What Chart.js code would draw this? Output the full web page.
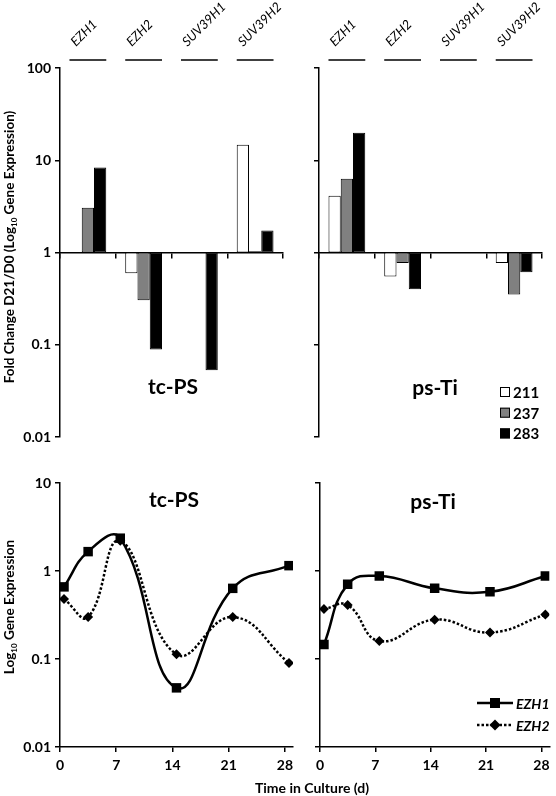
<!DOCTYPE html>
<html>
<head>
<meta charset="utf-8">
<script src="https://cdn.jsdelivr.net/npm/chart.js@4.4.1/dist/chart.umd.min.js"></script>
<style>
  body { margin: 0; background: #fff; width: 556px; height: 796px; position: relative; overflow: hidden; font-family: Lato, sans-serif; }
  canvas { position: absolute; }
  .ytitle { position: absolute; white-space: nowrap; font-weight: bold; font-size: 13.5px; color: #000;
            transform: translate(-50%, -50%) rotate(-90deg); }
  .ytitle sub { font-size: 8px; }
  .xtitle { position: absolute; white-space: nowrap; font-weight: bold; font-size: 14px; color: #000; transform: translate(-50%, -50%); }
</style>
</head>
<body>
<canvas id="barTc" width="300" height="450" style="left:0;top:0"></canvas>
<canvas id="barPs" width="256" height="450" style="left:300px;top:0"></canvas>
<canvas id="lineTc" width="300" height="346" style="left:0;top:450px"></canvas>
<canvas id="linePs" width="256" height="346" style="left:300px;top:450px"></canvas>
<div class="ytitle" style="left:10px;top:247px">Fold Change D21/D0 (Log<sub>10</sub> Gene Expression)</div>
<div class="ytitle" style="left:10px;top:607px">Log<sub>10</sub> Gene Expression</div>
<div class="xtitle" style="left:312px;top:787px">Time in Culture (d)</div>
<script>
// donnees - fold change D21/D0
const genes = ["EZH1", "EZH2", "SUV39H1", "SUV39H2"];
const cellLines = ["211", "237", "283"];
const tcps211 = [0.99, 0.595, null, 14.7];
const tcps237 = [3.06, 0.304, null, 1.03];
const tcps283 = [8.36, 0.089, 0.053, 1.73];
const psti211 = [4.13, 0.55, null, 0.77];
const psti237 = [6.3, 0.77, null, 0.35];
const psti283 = [19.9, 0.40, null, 0.61];
const foldTicks = [0.01, 0.1, 1, 10, 100];

// donnees - time course
const days = [0.5, 3.5, 7.5, 14.5, 21.5, 28.5];
const dayTicks = [0, 7, 14, 21, 28];
const exprTicks = [0.01, 0.1, 1, 10];
const tcpsEZH1 = [0.66, 1.66, 2.36, 0.047, 0.635, 1.15];
const tcpsEZH2 = [0.48, 0.30, 2.2, 0.113, 0.30, 0.09];
const pstiEZH1 = [0.146, 0.705, 0.877, 0.635, 0.58, 0.877];
const pstiEZH2 = [0.37, 0.41, 0.16, 0.28, 0.20, 0.32];

const tickFont = { family: "Lato", weight: "bold", size: 14 };
const barFills = ["#ffffff", "#808080", "#000000"];

function axisY(ticks, width, showLabels) {
  return {
    type: "logarithmic",
    min: ticks[0],
    max: ticks[ticks.length - 1],
    afterBuildTicks: (s) => { s.ticks = ticks.map((v) => ({ value: v })); },
    afterFit: (s) => { s.width = width; },
    ticks: { display: showLabels, color: "#000", font: tickFont, padding: 4, callback: (v) => String(v) },
    grid: { drawOnChartArea: false, tickLength: 5, color: "#000", lineWidth: 1.5 },
    border: { color: "#000", width: 1.5 },
  };
}

function barChart(id, values, opts) {
  const deco = {
    id: "deco",
    afterDraw(chart) {
      const ctx = chart.ctx;
      const x = chart.scales.x;
      const half = (x.width / genes.length) * 0.66 / 2;
      ctx.save();
      ctx.fillStyle = "#000";
      ctx.strokeStyle = "#000";
      // noms des genes au dessus
      genes.forEach((g, i) => {
        const cx = x.getPixelForValue(i);
        ctx.lineWidth = 1.5;
        ctx.beginPath();
        ctx.moveTo(cx - half, 60);
        ctx.lineTo(cx + half, 60);
        ctx.stroke();
        ctx.save();
        ctx.translate(cx - 12, 47);
        ctx.rotate(-Math.PI / 4);
        ctx.font = "italic 13px Lato";
        ctx.textAlign = "left";
        ctx.textBaseline = "alphabetic";
        ctx.fillText(g, 0, 0);
        ctx.restore();
      });
      ctx.font = "bold 21px Lato";
      ctx.textAlign = "center";
      ctx.textBaseline = "middle";
      ctx.fillText(opts.title, opts.titleX, opts.titleY);
      if (opts.legend) {
        ctx.font = "bold 15px Lato";
        ctx.textAlign = "left";
        cellLines.forEach((c, i) => {
          const yy = opts.legend.y + i * 20.7;
          ctx.fillStyle = barFills[i];
          ctx.fillRect(opts.legend.x, yy - 5, 10, 10);
          ctx.lineWidth = 1;
          ctx.strokeRect(opts.legend.x + 0.5, yy - 4.5, 9, 9);
          ctx.fillStyle = "#000";
          ctx.fillText(c, opts.legend.x + 13, yy + 1);
        });
      }
      ctx.restore();
    },
  };

  new Chart(document.getElementById(id), {
    type: "bar",
    data: {
      labels: genes,
      datasets: cellLines.map((c, i) => ({
        label: c,
        data: values[i].map((v) => (v === null ? null : [1, v])),
        backgroundColor: barFills[i],
        borderColor: "#000",
      })),
    },
    options: {
      responsive: false,
      animation: false,
      layout: { padding: { left: opts.padLeft, right: opts.padRight, top: 68, bottom: 13 } },
      datasets: { bar: { categoryPercentage: 0.66, barPercentage: 1, borderWidth: 1, borderSkipped: false } },
      plugins: { legend: { display: false }, tooltip: { enabled: false } },
      scales: {
        x: {
          position: { y: 1 },
          ticks: { display: false },
          grid: { offset: true, drawOnChartArea: false, tickLength: 5, color: "#000", lineWidth: 1.5 },
          border: { color: "#000", width: 1.5 },
        },
        y: axisY(foldTicks, opts.axisWidth, opts.showLabels),
      },
    },
    plugins: [deco],
  });
}

function lineChart(id, ezh1, ezh2, opts) {
  const deco = {
    id: "deco",
    afterDraw(chart) {
      const ctx = chart.ctx;
      ctx.save();
      ctx.fillStyle = "#000";
      ctx.strokeStyle = "#000";
      ctx.font = "bold 21px Lato";
      ctx.textAlign = "center";
      ctx.textBaseline = "middle";
      ctx.fillText(opts.title, opts.titleX, opts.titleY);
      if (opts.legend) {
        const lx = opts.legend.x;
        const ly = opts.legend.y;
        ctx.lineWidth = 2.5;
        // EZH1
        ctx.beginPath();
        ctx.moveTo(lx, ly);
        ctx.lineTo(lx + 36, ly);
        ctx.stroke();
        ctx.fillRect(lx + 18 - 5, ly - 5, 10, 10);
        // EZH2
        ctx.setLineDash([2.5, 2]);
        ctx.beginPath();
        ctx.moveTo(lx, ly + 22);
        ctx.lineTo(lx + 36, ly + 22);
        ctx.stroke();
        ctx.setLineDash([]);
        ctx.beginPath();
        ctx.moveTo(lx + 18, ly + 22 - 5.5);
        ctx.lineTo(lx + 23.5, ly + 22);
        ctx.lineTo(lx + 18, ly + 22 + 5.5);
        ctx.lineTo(lx + 12.5, ly + 22);
        ctx.closePath();
        ctx.fill();
        ctx.font = "italic bold 14px Lato";
        ctx.textAlign = "left";
        ctx.fillText("EZH1", lx + 39, ly + 1);
        ctx.fillText("EZH2", lx + 39, ly + 23);
      }
      ctx.restore();
    },
  };

  new Chart(document.getElementById(id), {
    type: "line",
    data: {
      datasets: [
        {
          label: "EZH1",
          data: days.map((d, i) => ({ x: d, y: ezh1[i] })),
          borderColor: "#000",
          backgroundColor: "#000",
          borderWidth: 2.5,
          tension: 0.45,
          pointStyle: "rect",
          pointRadius: 6.7,
          pointBorderWidth: 0,
        },
        {
          label: "EZH2",
          data: days.map((d, i) => ({ x: d, y: ezh2[i] })),
          borderColor: "#000",
          backgroundColor: "#000",
          borderWidth: 2.5,
          borderDash: [2.5, 2],
          tension: 0.45,
          pointStyle: "rectRot",
          pointRadius: 5,
          pointBorderWidth: 0,
        },
      ],
    },
    options: {
      responsive: false,
      animation: false,
      layout: { padding: { left: opts.padLeft, right: opts.padRight, top: 33, bottom: 0 } },
      plugins: { legend: { display: false }, tooltip: { enabled: false } },
      scales: {
        x: {
          type: "linear",
          min: 0,
          max: 29,
          afterBuildTicks: (s) => { s.ticks = dayTicks.map((v) => ({ value: v })); },
          afterFit: (s) => { s.height = 49; },
          ticks: { color: "#000", font: tickFont, padding: 5, maxRotation: 0 },
          grid: { drawOnChartArea: false, tickLength: 5, color: "#000", lineWidth: 1.5 },
          border: { color: "#000", width: 1.5 },
        },
        y: axisY(exprTicks, opts.axisWidth, opts.showLabels),
      },
    },
    plugins: [deco],
  });
}

barChart("barTc", [tcps211, tcps237, tcps283], {
  padLeft: 0, padRight: 17, axisWidth: 60, showLabels: true,
  title: "tc-PS", titleX: 173, titleY: 387,
});
barChart("barPs", [psti211, psti237, psti283], {
  padLeft: 0, padRight: 14, axisWidth: 19, showLabels: false,
  title: "ps-Ti", titleX: 135, titleY: 388, legend: { x: 200, y: 392 },
});
lineChart("lineTc", tcpsEZH1, tcpsEZH2, {
  padLeft: 0, padRight: 7, axisWidth: 60, showLabels: true,
  title: "tc-PS", titleX: 174, titleY: 50,
});
lineChart("linePs", pstiEZH1, pstiEZH2, {
  padLeft: 0, padRight: 3, axisWidth: 20, showLabels: false,
  title: "ps-Ti", titleX: 133, titleY: 52, legend: { x: 177, y: 253 },
});
</script>
</body>
</html>
